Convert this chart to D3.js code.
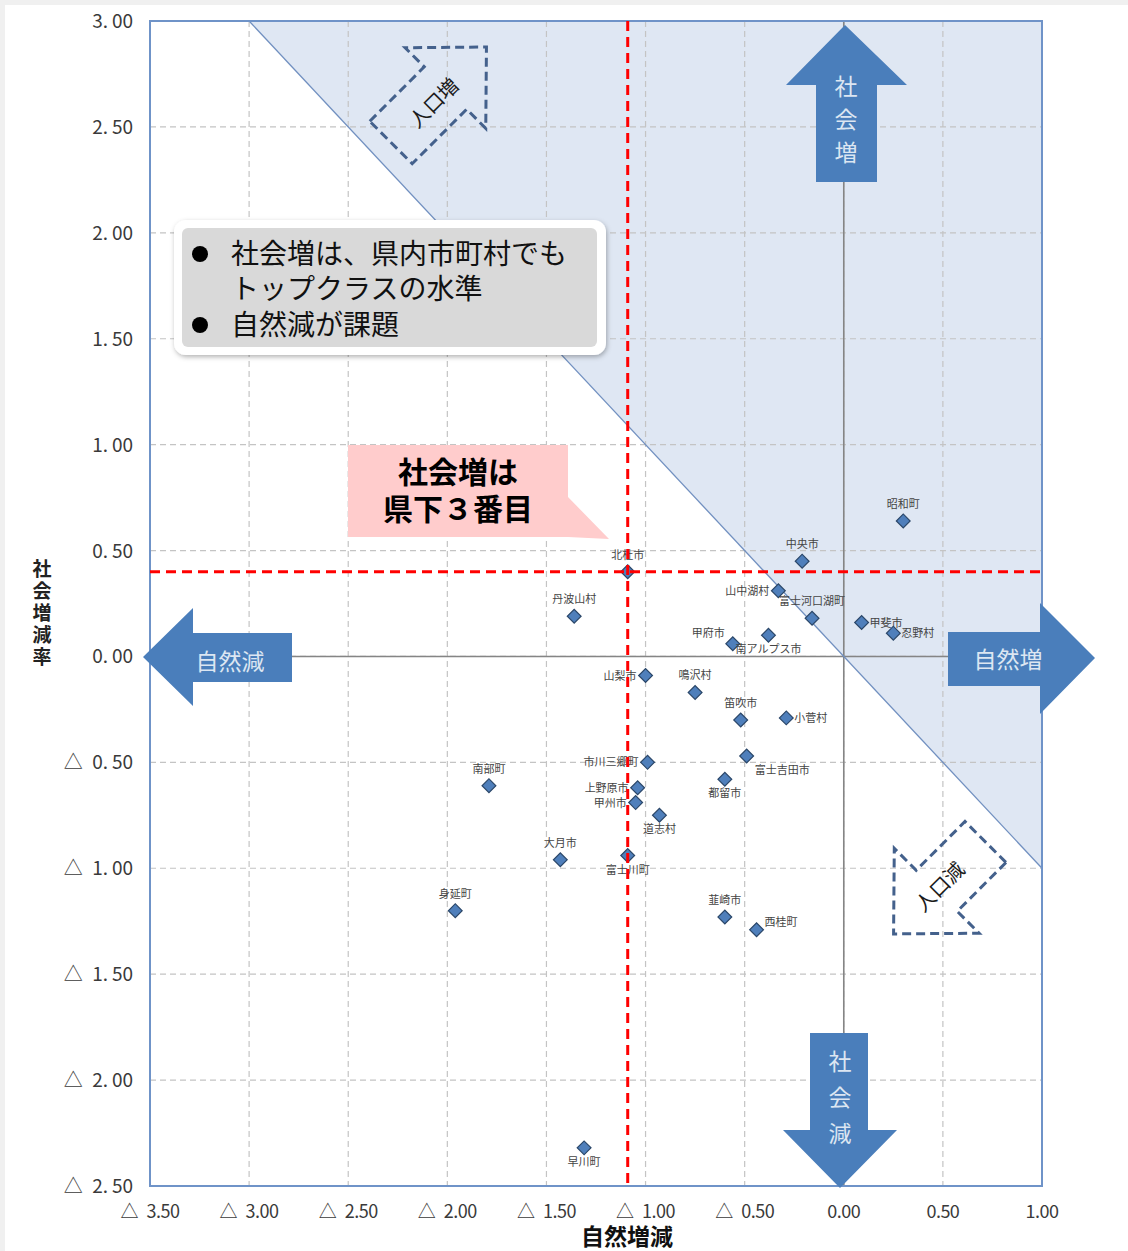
<!DOCTYPE html>
<html>
<head>
<meta charset="utf-8">
<script src="https://cdn.jsdelivr.net/npm/d3@7"></script>
<style>
  html, body { margin: 0; padding: 0; background: #f0f0f0; }
  svg { display: block; }
  text { font-family: "Noto Sans CJK JP", "Noto Sans", sans-serif; }
</style>
</head>
<body>
<svg id="chart" width="1128" height="1251"></svg>
<script>
// ── data: municipalities (natural change %, social change %) ───────────────
const names = ['昭和町','中央市','北杜市','山中湖村','富士河口湖町','甲斐市','忍野村','丹波山村',
  '甲府市','南アルプス市','山梨市','鳴沢村','笛吹市','小菅村','市川三郷町','富士吉田市','南部町',
  '上野原市','都留市','甲州市','道志村','大月市','富士川町','身延町','韮崎市','西桂町','早川町'];
const natural = [0.30,-0.21,-1.09,-0.33,-0.16,0.09,0.25,-1.36,
  -0.56,-0.38,-1.00,-0.75,-0.52,-0.29,-0.99,-0.49,-1.79,
  -1.04,-0.60,-1.05,-0.93,-1.43,-1.09,-1.96,-0.60,-0.44,-1.31];
const social = [0.64,0.45,0.40,0.31,0.18,0.16,0.11,0.19,
  0.06,0.10,-0.09,-0.17,-0.30,-0.29,-0.50,-0.47,-0.61,
  -0.62,-0.58,-0.69,-0.75,-0.96,-0.94,-1.20,-1.23,-1.29,-2.32];
// where each label sits relative to its marker
const labelSide = {
  '山中湖村':'w','甲斐市':'e','忍野村':'e','甲府市':'nw','南アルプス市':'s','山梨市':'w',
  '小菅村':'e','市川三郷町':'w','富士吉田市':'se','上野原市':'w','都留市':'s','甲州市':'w',
  '道志村':'s','富士川町':'s','西桂町':'ne','早川町':'s'
};

const xTicks = [-3.5,-3,-2.5,-2,-1.5,-1,-0.5,0,0.5,1];
const yTicks = [3,2.5,2,1.5,1,0.5,0,-0.5,-1,-1.5,-2,-2.5];
const focus = '北杜市';

// ── layout ─────────────────────────────────────────────────────────────────
const svg = d3.select('#chart');
const L = 150, R = 1042, T = 21, B = 1186;
const x = d3.scaleLinear().domain([-3.5, 1]).range([L, R]);
const y = d3.scaleLinear().domain([-2.5, 3]).range([B, T]);

svg.append('rect').attr('x', 5).attr('y', 5).attr('width', 1123).attr('height', 1246).attr('fill', '#fff');

// shaded zone where natural + social > 0
svg.append('path')
  .attr('d', d3.line()([[x(-3), y(3)], [x(1), y(3)], [x(1), y(-1)]]))
  .attr('fill', '#dfe7f3');

// dashed grid
const grid = svg.append('g').attr('stroke', '#c4c4c4').attr('stroke-width', 1.2).attr('stroke-dasharray', '6,4');
xTicks.slice(1, -1).forEach(v => grid.append('line').attr('x1', x(v)).attr('x2', x(v)).attr('y1', T).attr('y2', B));
yTicks.slice(1, -1).forEach(v => grid.append('line').attr('x1', L).attr('x2', R).attr('y1', y(v)).attr('y2', y(v)));

// zero axes
svg.append('line').attr('x1', L).attr('x2', R).attr('y1', y(0)).attr('y2', y(0)).attr('stroke', '#858585').attr('stroke-width', 1.6);
svg.append('line').attr('x1', x(0)).attr('x2', x(0)).attr('y1', T).attr('y2', B).attr('stroke', '#858585').attr('stroke-width', 1.6);

// break-even diagonal y = -x
svg.append('line').attr('x1', x(-3)).attr('y1', y(3)).attr('x2', x(1)).attr('y2', y(-1))
  .attr('stroke', '#7190c0').attr('stroke-width', 1.3);

// plot frame
svg.append('rect').attr('x', L).attr('y', T).attr('width', R - L).attr('height', B - T)
  .attr('fill', 'none').attr('stroke', '#6f93c8').attr('stroke-width', 2);

// ── tick labels ────────────────────────────────────────────────────────────
const fmtY = v => (v < 0 ? '△\u2002' : '') + Math.abs(v).toFixed(2).replace('.', '.\u2009');
const fmtX = v => (v < 0 ? '△\u2002' : '') + Math.abs(v).toFixed(2);
svg.append('g').selectAll('text').data(yTicks).join('text')
  .attr('x', 133).attr('y', d => y(d) + 7).attr('text-anchor', 'end')
  .attr('font-size', 19).attr('fill', '#3a3a3a').text(fmtY);
svg.append('g').selectAll('text').data(xTicks).join('text')
  .attr('x', d => x(d)).attr('y', 1218).attr('text-anchor', 'middle')
  .attr('font-size', 18).attr('fill', '#3a3a3a').attr('letter-spacing', '-0.5')
  .text(fmtX);

svg.append('text').attr('x', 627).attr('y', 1245).attr('text-anchor', 'middle')
  .attr('font-size', 23).attr('font-weight', 700).attr('fill', '#111').text('自然増減');
const yt = svg.append('g').attr('font-size', 19).attr('font-weight', 700).attr('fill', '#222').attr('text-anchor', 'middle');
'社会増減率'.split('').forEach((c, i) => yt.append('text').attr('x', 42).attr('y', 576 + i * 22).text(c));

// ── big blue direction arrows ──────────────────────────────────────────────
const arrowFill = '#4a7ebb', arrowText = '#dce6f2';
const arrows = svg.append('g');
arrows.append('path').attr('fill', arrowFill)
  .attr('d', d3.line()([[845,25],[907,85],[877,85],[877,182],[816,182],[816,85],[786,85]]) + 'Z');
arrows.append('path').attr('fill', arrowFill)
  .attr('d', d3.line()([[840,1188],[897,1130],[868,1130],[868,1033],[810,1033],[810,1130],[783,1130]]) + 'Z');
arrows.append('path').attr('fill', arrowFill)
  .attr('d', d3.line()([[143,657],[193,608],[193,633],[292,633],[292,682],[193,682],[193,706]]) + 'Z');
arrows.append('path').attr('fill', arrowFill)
  .attr('d', d3.line()([[1095,658],[1040,603],[1040,632],[948,632],[948,686],[1040,686],[1040,714]]) + 'Z');
const at = arrows.append('g').attr('fill', arrowText).attr('font-size', 23).attr('text-anchor', 'middle');
['社','会','増'].forEach((c, i) => at.append('text').attr('x', 846).attr('y', 95 + i * 33).text(c));
['社','会','減'].forEach((c, i) => at.append('text').attr('x', 840).attr('y', 1070 + i * 36).text(c));
at.append('text').attr('x', 230).attr('y', 670).text('自然減');
at.append('text').attr('x', 1008).attr('y', 668).text('自然増');

// dashed diagonal "population" arrows (local shape points along +x)
function dashedArrow(tx, ty, rot, shaftL, headL, halfW, halfH, label, lx, ly, textRot) {
  const g = svg.append('g').attr('transform', `translate(${tx},${ty}) rotate(${rot})`);
  g.append('path')
    .attr('d', d3.line()([[0,-halfW],[shaftL,-halfW],[shaftL,-halfH],[shaftL+headL,0],[shaftL,halfH],[shaftL,halfW],[0,halfW]]) + 'Z')
    .attr('fill', 'none').attr('stroke', '#44618c').attr('stroke-width', 3).attr('stroke-dasharray', '9,5');
  svg.append('text').attr('transform', `translate(${lx},${ly}) rotate(${textRot})`)
    .attr('text-anchor', 'middle').attr('dy', 7).attr('font-size', 20).attr('fill', '#1a1a1a').text(label);
}
dashedArrow(391, 142.5, -45, 77, 58, 30, 57, '人口増', 434, 103, -45);
dashedArrow(985.5, 842, 135, 69, 61, 29, 60, '人口減', 940, 887, -45);

// ── municipality markers ───────────────────────────────────────────────────
const fi = names.indexOf(focus);
const diamond = d3.symbol().type(d3.symbolSquare).size(95);
const pts = svg.append('g');
names.forEach((n, i) => {
  pts.append('path').attr('d', diamond)
    .attr('transform', `translate(${x(natural[i])},${y(social[i])}) rotate(45)`)
    .attr('fill', '#4f7fbb').attr('stroke', '#2b4769').attr('stroke-width', 1.2);
  const side = labelSide[n] || 'n';
  const cx = x(natural[i]), cy = y(social[i]);
  let lx = cx, ly = cy - 13, anchor = 'middle';
  if (side === 's') { ly = cy + 18; }
  if (side === 'w') { lx = cx - 9; ly = cy + 4; anchor = 'end'; }
  if (side === 'e') { lx = cx + 8; ly = cy + 4; anchor = 'start'; }
  if (side === 'nw') { lx = cx - 8; ly = cy - 7; anchor = 'end'; }
  if (side === 'ne') { lx = cx + 8; ly = cy - 4; anchor = 'start'; }
  if (side === 'se') { lx = cx + 8; ly = cy + 18; anchor = 'start'; }
  pts.append('text').attr('x', lx).attr('y', ly).attr('text-anchor', anchor)
    .attr('font-size', 11).attr('fill', '#444').text(n);
});

// red reference lines through 北杜市
svg.append('line').attr('x1', x(natural[fi])).attr('x2', x(natural[fi])).attr('y1', T).attr('y2', B)
  .attr('stroke', '#ff0000').attr('stroke-width', 3).attr('stroke-dasharray', '10,6');
svg.append('line').attr('x1', L).attr('x2', R).attr('y1', y(social[fi])).attr('y2', y(social[fi]))
  .attr('stroke', '#ff0000').attr('stroke-width', 3).attr('stroke-dasharray', '10,6');

// ── callouts ───────────────────────────────────────────────────────────────
const defs = svg.append('defs');
const sh = defs.append('filter').attr('id', 'shadow').attr('x', '-10%').attr('y', '-10%').attr('width', '120%').attr('height', '130%');
sh.append('feDropShadow').attr('dx', 1).attr('dy', 2).attr('stdDeviation', 2.5).attr('flood-color', '#000').attr('flood-opacity', 0.3);

svg.append('rect').attr('x', 174).attr('y', 220).attr('width', 432).attr('height', 135).attr('rx', 12)
  .attr('fill', '#fff').attr('filter', 'url(#shadow)');
svg.append('rect').attr('x', 182).attr('y', 228).attr('width', 415).attr('height', 119).attr('rx', 6)
  .attr('fill', '#d9d9d9');
const bullets = svg.append('g').attr('font-size', 28).attr('fill', '#111');
bullets.append('circle').attr('cx', 200).attr('cy', 254).attr('r', 8).attr('fill', '#000');
bullets.append('circle').attr('cx', 200).attr('cy', 325).attr('r', 8).attr('fill', '#000');
bullets.append('text').attr('x', 231).attr('y', 264).text('社会増は、県内市町村でも');
bullets.append('text').attr('x', 231).attr('y', 299).text('トップクラスの水準');
bullets.append('text').attr('x', 231).attr('y', 335).text('自然減が課題');

svg.append('path')
  .attr('d', d3.line()([[348,445],[568,445],[568,497],[609,539],[568,537],[348,537]]) + 'Z')
  .attr('fill', '#ffcccc');
svg.append('text').attr('x', 458).attr('y', 483).attr('text-anchor', 'middle')
  .attr('font-size', 30).attr('font-weight', 700).attr('fill', '#000').text('社会増は');
svg.append('text').attr('x', 458).attr('y', 520).attr('text-anchor', 'middle')
  .attr('font-size', 30).attr('font-weight', 700).attr('fill', '#000').text('県下３番目');
</script>
</body>
</html>
